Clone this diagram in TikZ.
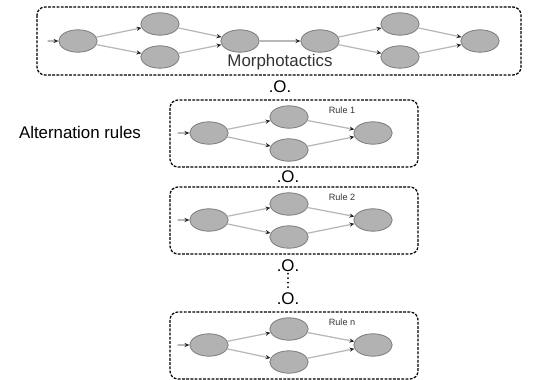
\documentclass[tikz,border=0pt]{standalone}
\usepackage{fontspec}
\setmainfont{Liberation Sans}
\usetikzlibrary{arrows.meta,shapes.geometric}

\begin{document}
\begin{tikzpicture}[x=0.025cm,y=-0.025cm,line cap=round]
	\tikzstyle{state}=[ellipse,draw=black!50,fill=black!30,line width=0.6pt,minimum width=0.96cm,minimum height=0.56cm,inner sep=0pt];
	\tikzstyle{trans}=[draw=black!28,line width=0.9pt,-{Stealth[length=3.5pt,width=3pt,color=black!85]}];
	\tikzstyle{frame}=[draw=black,line width=0.9pt,dash pattern=on 2pt off 1pt,line cap=butt,rounded corners=0.2cm];
	\tikzstyle{comp}=[font=\fontsize{12}{14}\selectfont,inner sep=1pt];
	\tikzstyle{rulename}=[font=\fontsize{6.5}{8}\selectfont,text=black!80,inner sep=0pt];

	\useasboundingbox (0,0) rectangle (534,380);

	\draw[frame] (37,7) rectangle (521,75);
	\coordinate (m0) at (48,41);
	\node[state] (m1) at (78,41)  {};
	\node[state] (m2) at (160,24) {};
	\node[state] (m3) at (160,57) {};
	\node[state] (m4) at (240,41) {};
	\node[state] (m5) at (320,41) {};
	\node[state] (m6) at (400,24) {};
	\node[state] (m7) at (400,57) {};
	\node[state] (m8) at (480,41) {};
	\node[font=\fontsize{12}{14}\selectfont,text=black!80] (morph) at (280,62) {Morphotactics};
	\draw[trans] (m0) -- (m1);
	\foreach \a/\b in {m1/m2,m1/m3,m2/m4,m3/m4,m4/m5,m5/m6,m5/m7,m6/m8,m7/m8}
		\draw[trans] (\a) -- (\b);

	\node[font=\fontsize{12}{14}\selectfont] (alt) at (80,132) {Alternation rules};

	\foreach \y/\n/\lbl in {100/1/Rule 1,187/2/Rule 2,312/n/Rule n}{
		\draw[frame] (170,\y) rectangle (418,\y+67);
		\coordinate (r\n0) at (178,\y+33);
		\node[state] (r\n1) at (209,\y+33) {};
		\node[state] (r\n2) at (289,\y+17) {};
		\node[state] (r\n3) at (289,\y+50) {};
		\node[state] (r\n4) at (373,\y+33) {};
		\node[rulename] (lbl\n) at (342,\y+10) {\lbl};
		\draw[trans] (r\n0) -- (r\n1);
		\draw[trans] (r\n1) -- (r\n2);
		\draw[trans] (r\n1) -- (r\n3);
		\draw[trans] (r\n2) -- (r\n4);
		\draw[trans] (r\n3) -- (r\n4);
	}

	\node[comp] (o1) at (280,87)  {.O.};
	\node[comp] (o2) at (288,177) {.O.};
	\node[comp] (o3) at (288,266) {.O.};
	\node[comp] (o4) at (288,299) {.O.};
	\draw[line width=1.3pt,dash pattern=on 0pt off 3.2pt] (o3) -- (o4);
\end{tikzpicture}
\end{document}
